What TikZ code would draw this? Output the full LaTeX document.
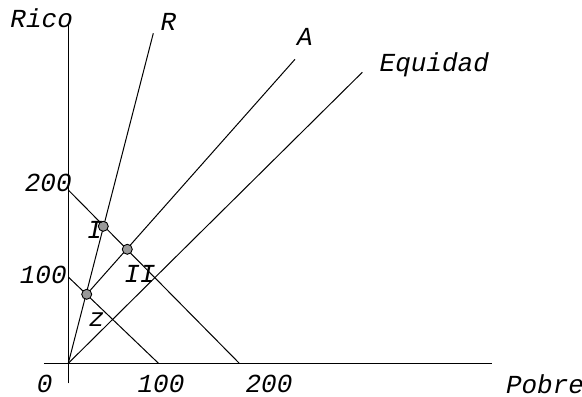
\documentclass[tikz,border=0pt]{standalone}
\usepackage{fontspec}
\newfontfamily\plotfont{Liberation Mono}
\usepackage{tikz}
\usetikzlibrary{positioning}

\begin{document}
\begin{tikzpicture}[x=0.5pt, y=0.5pt,
  ax/.style={line width=0.55pt},
  ln/.style={line width=0.5pt},
  lbl/.style={font=\plotfont\itshape\fontsize{13}{15}\selectfont, inner sep=0pt},
  pt/.style={circle, draw, line width=0.45pt, fill=black!40, inner sep=0pt, minimum size=5pt}]
\useasboundingbox (-68.3,-32.7) rectangle (513.7,363.3);
\coordinate (o) at (0,0);
\coordinate (ytop) at (0,338.3);
\coordinate (ybot) at (0,-20);
\coordinate (xl) at (-24.3,0);
\coordinate (xr) at (423.7,0);
\coordinate (y200) at (0,173.3);
\coordinate (x200) at (171,0);
\coordinate (y100) at (0,86.3);
\coordinate (x100) at (90.2,0);
\coordinate (rend) at (85,330);
\coordinate (aend) at (226.7,304);
\coordinate (eend) at (294,291);
\coordinate (cz) at (18.4,69);
\coordinate (cI) at (35,137);
\coordinate (cII) at (59,114);
\draw[ax] (ybot) -- (ytop);
\draw[ax] (xl) -- (xr);
\draw[ln] (y200) -- (x200);
\draw[ln] (y100) -- (x100);
\draw[ln] (o) -- (rend);
\draw[ln] (o) -- (eend);
\draw[ln] (cz) -- (aend);
\node[pt] (pz) at (cz) {};
\node[pt] (pI) at (cI) {};
\node[pt] (pII) at (cII) {};
\node[lbl] (rico) at (-26.6,345) {Rico};
\node[lbl] (lR) at (100.2,341.6) {R};
\node[lbl] (lA) at (236.7,326.6) {A};
\node[lbl] (leq) at (366,298.3) {Equidad};
\node[lbl] (t200y) at (-20,180) {200};
\node[lbl] (t100y) at (-25,88.3) {100};
\node[lbl] (lI) at (26.7,133.7) {I};
\node[lbl] (lII) at (71.7,89.3) {II};
\node[lbl] (lz) at (28.4,43.3) {z};
\node[lbl] (t0) at (-23.5,-21) {0};
\node[lbl] (t100x) at (92.7,-21) {100};
\node[lbl] (t200x) at (200.7,-21) {200};
\node[lbl] (pobre) at (476.7,-21) {Pobre};
\end{tikzpicture}
\end{document}
